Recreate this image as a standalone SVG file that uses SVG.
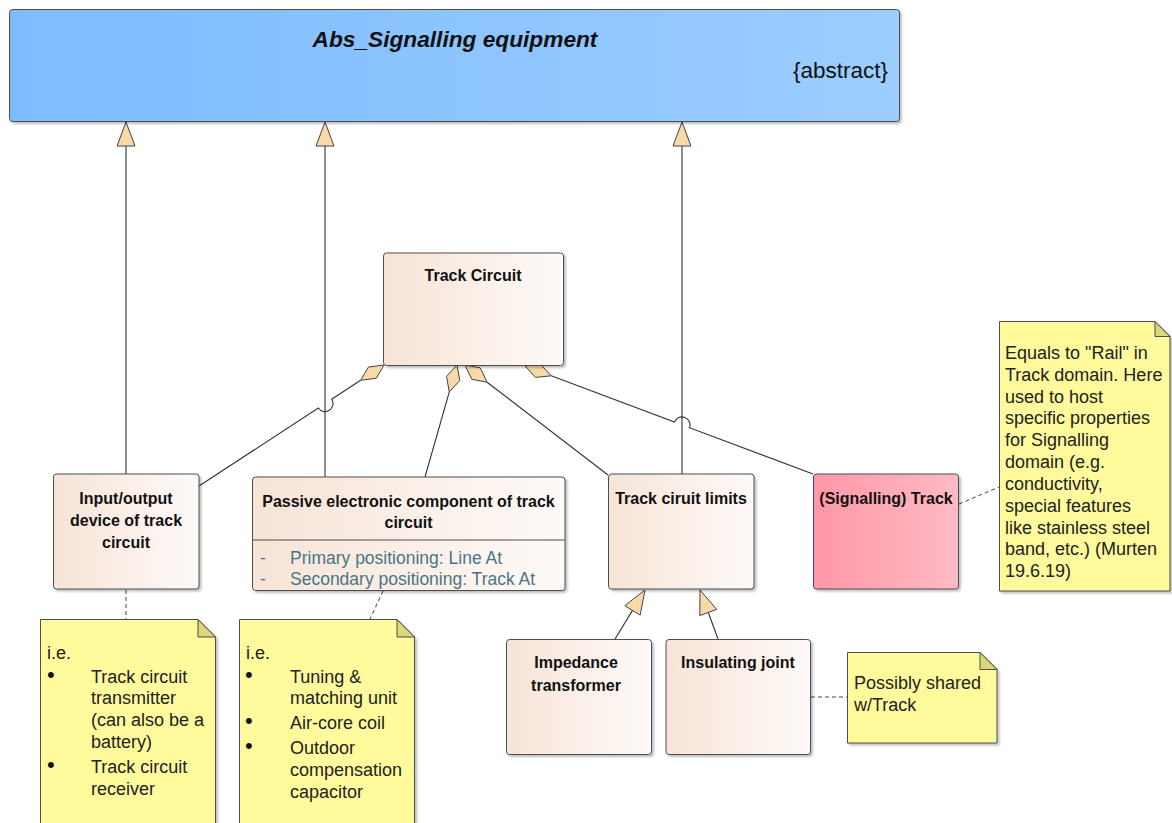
<svg xmlns="http://www.w3.org/2000/svg" width="1172" height="823" viewBox="0 0 1172 823">
  <defs>
    <linearGradient id="gBlue" x1="0" y1="0" x2="1" y2="0">
      <stop offset="0" stop-color="#7DBCFE"/>
      <stop offset="1" stop-color="#9CCDFF"/>
    </linearGradient>
    <linearGradient id="gBeige" x1="0" y1="0" x2="1" y2="0">
      <stop offset="0" stop-color="#F7E4D7"/>
      <stop offset="1" stop-color="#FEFAF8"/>
    </linearGradient>
    <linearGradient id="gPink" x1="0" y1="0" x2="1" y2="0">
      <stop offset="0" stop-color="#FF97A7"/>
      <stop offset="1" stop-color="#FFBAC5"/>
    </linearGradient>
    <filter id="shadow" x="-5%" y="-5%" width="115%" height="115%">
      <feDropShadow dx="2" dy="2" stdDeviation="1.2" flood-color="#000" flood-opacity="0.25"/>
    </filter>
  </defs>
  <style>
    .box { stroke: #4d4d4d; stroke-width: 1; filter: url(#shadow); }
    .note { fill: #FFFB9C; stroke: #4d4d4d; stroke-width: 1; filter: url(#shadow); }
    .fold { fill: #DCD77A; stroke: #4d4d4d; stroke-width: 1; }
    .name { font-family: "Liberation Sans", Arial, sans-serif; font-weight: bold; font-size: 16px; fill: #111; text-anchor: middle; }
    .attr { font-family: "Liberation Sans", Arial, sans-serif; font-size: 17.5px; fill: #4a7585; }
    .nt { font-family: "Liberation Sans", Arial, sans-serif; font-size: 18px; fill: #222; }
    .bul { font-family: "Liberation Sans", Arial, sans-serif; font-size: 22px; fill: #111; }
    .line { fill: none; stroke: #333; stroke-width: 1.1; }
    .dash { fill: none; stroke: #444; stroke-width: 1; stroke-dasharray: 4 3; }
    .tri { fill: #F8D9A8; stroke: #444; stroke-width: 1; }
    .dia { fill: #F8D9A8; stroke: #444; stroke-width: 1; }
  </style>
  <rect width="1172" height="823" fill="#ffffff"/>

  <g id="connectors">
    <!-- generalizations to Abs_Signalling equipment -->
    <line class="line" x1="126" y1="146" x2="126" y2="474"/>
    <polygon class="tri" points="126,122 117,146 135,146"/>
    <line class="line" x1="325" y1="146" x2="325" y2="477"/>
    <polygon class="tri" points="325,122 316,146 334,146"/>
    <line class="line" x1="682" y1="146" x2="682" y2="474"/>
    <polygon class="tri" points="682,122 673,146 691,146"/>

    <!-- aggregations from Track Circuit -->
    <path class="line" d="M360.6,380.3 L331.7,399.2 A8,8 0 0 1 318.3,408 L199,486"/>
    <polygon class="dia" points="384,365 376.3,378.2 360.6,380.3 368.4,367.1"/>

    <path class="line" d="M449.3,391.9 L425,477"/>
    <polygon class="dia" points="457,365 459.8,380.5 449.3,391.9 446.5,376.4"/>

    <path class="line" d="M487.1,382.2 L608,475"/>
    <polygon class="dia" points="465,365 480.3,367.9 487.1,382.2 471.8,379.3"/>

    <path class="line" d="M551.2,375.8 L674.5,422.1 A8,8 0 0 1 689.5,427.7 L813,474"/>
    <polygon class="dia" points="525,366 540.6,364.4 551.2,375.8 535.6,377.4"/>

    <!-- generalizations to Track ciruit limits -->
    <line class="line" x1="615" y1="639" x2="632.5" y2="610.4"/>
    <polygon class="tri" points="645,590 624.8,605.7 640.2,615.1"/>
    <line class="line" x1="718" y1="639" x2="708.3" y2="612.5"/>
    <polygon class="tri" points="700,590 716.7,609.4 699.8,615.6"/>

    <!-- note links -->
    <line class="dash" x1="126" y1="590" x2="126" y2="619"/>
    <line class="dash" x1="383" y1="591" x2="370" y2="619"/>
    <line class="dash" x1="959" y1="504" x2="999" y2="487"/>
    <line class="dash" x1="811" y1="697" x2="847" y2="697"/>
  </g>

  <g id="abs-signalling-equipment">
    <rect class="box" x="9.5" y="9.5" width="890" height="112" rx="3" fill="url(#gBlue)"/>
    <text x="455" y="47" font-family="'Liberation Sans', Arial, sans-serif" font-size="22.7" font-weight="bold" font-style="italic" fill="#111" text-anchor="middle">Abs_Signalling equipment</text>
    <text x="888" y="78" font-family="'Liberation Sans', Arial, sans-serif" font-size="22.5" fill="#111" text-anchor="end">{abstract}</text>
  </g>

  <g id="track-circuit">
    <rect class="box" x="383.5" y="253" width="180" height="112.5" rx="3" fill="url(#gBeige)"/>
    <text class="name" x="473" y="281" font-size="13">Track Circuit</text>
  </g>

  <g id="io-device">
    <rect class="box" x="53.5" y="474" width="145.5" height="115" rx="3" fill="url(#gBeige)"/>
    <text class="name" x="126" y="504">Input/output</text>
    <text class="name" x="126" y="526">device of track</text>
    <text class="name" x="126" y="548">circuit</text>
  </g>

  <g id="passive-component">
    <rect class="box" x="252.5" y="477" width="312.5" height="113.5" rx="3" fill="url(#gBeige)"/>
    <text class="name" x="408.5" y="507">Passive electronic component of track</text>
    <text class="name" x="408.5" y="528">circuit</text>
    <line x1="252.5" y1="540" x2="565" y2="540" stroke="#4d4d4d" stroke-width="1"/>
    <text class="attr" x="260" y="563.5">-</text>
    <text class="attr" x="290" y="563.5">Primary positioning: Line At</text>
    <text class="attr" x="260" y="585">-</text>
    <text class="attr" x="290" y="585">Secondary positioning: Track At</text>
  </g>

  <g id="track-circuit-limits">
    <rect class="box" x="608.5" y="474" width="145.5" height="115" rx="3" fill="url(#gBeige)"/>
    <text class="name" x="681" y="504">Track ciruit limits</text>
  </g>

  <g id="signalling-track">
    <rect class="box" x="813.5" y="474" width="145" height="115" rx="3" fill="url(#gPink)"/>
    <text class="name" x="886" y="504">(Signalling) Track</text>
  </g>

  <g id="impedance-transformer">
    <rect class="box" x="506.5" y="639.5" width="145" height="115" rx="3" fill="url(#gBeige)"/>
    <text class="name" x="576" y="668">Impedance</text>
    <text class="name" x="576" y="691">transformer</text>
  </g>

  <g id="insulating-joint">
    <rect class="box" x="666" y="639.5" width="144.5" height="115" rx="3" fill="url(#gBeige)"/>
    <text class="name" x="738" y="668">Insulating joint</text>
  </g>

  <g id="note-track">
    <polygon class="note" points="999.5,321.5 1155,321.5 1170,336.5 1170,591 999.5,591"/>
    <polygon class="fold" points="1155,321.5 1155,336.5 1170,336.5"/>
    <text class="nt" x="1005" y="359">Equals to "Rail" in</text>
    <text class="nt" x="1005" y="381">Track domain. Here</text>
    <text class="nt" x="1005" y="403">used to host</text>
    <text class="nt" x="1005" y="424">specific properties</text>
    <text class="nt" x="1005" y="446">for Signalling</text>
    <text class="nt" x="1005" y="468">domain (e.g.</text>
    <text class="nt" x="1005" y="490">conductivity,</text>
    <text class="nt" x="1005" y="512">special features</text>
    <text class="nt" x="1005" y="534">like stainless steel</text>
    <text class="nt" x="1005" y="555">band, etc.) (Murten</text>
    <text class="nt" x="1005" y="577">19.6.19)</text>
  </g>

  <g id="note-io">
    <polygon class="note" points="40.5,619.5 198,619.5 215.5,637 215.5,830 40.5,830"/>
    <polygon class="fold" points="198,619.5 198,637 215.5,637"/>
    <text class="nt" x="47" y="658.5">i.e.</text>
    <text class="bul" x="47" y="682">•</text>
    <text class="nt" x="91" y="682.5">Track circuit</text>
    <text class="nt" x="91" y="703.5">transmitter</text>
    <text class="nt" x="91" y="725.5">(can also be a</text>
    <text class="nt" x="91" y="747.5">battery)</text>
    <text class="bul" x="47" y="772">•</text>
    <text class="nt" x="91" y="772.5">Track circuit</text>
    <text class="nt" x="91" y="794.5">receiver</text>
  </g>

  <g id="note-passive">
    <polygon class="note" points="239.5,619.5 397,619.5 414.5,637 414.5,830 239.5,830"/>
    <polygon class="fold" points="397,619.5 397,637 414.5,637"/>
    <text class="nt" x="246" y="658.5">i.e.</text>
    <text class="bul" x="245" y="682">•</text>
    <text class="nt" x="290" y="682.5">Tuning &amp;</text>
    <text class="nt" x="290" y="703.5">matching unit</text>
    <text class="bul" x="245" y="728">•</text>
    <text class="nt" x="290" y="728.5">Air-core coil</text>
    <text class="bul" x="245" y="753">•</text>
    <text class="nt" x="290" y="753.5">Outdoor</text>
    <text class="nt" x="290" y="775.5">compensation</text>
    <text class="nt" x="290" y="797.5">capacitor</text>
  </g>

  <g id="note-joint">
    <polygon class="note" points="847.5,652.5 980,652.5 997,669.5 997,743 847.5,743"/>
    <polygon class="fold" points="980,652.5 980,669.5 997,669.5"/>
    <text class="nt" x="854" y="689">Possibly shared</text>
    <text class="nt" x="854" y="710.5">w/Track</text>
  </g>
</svg>
